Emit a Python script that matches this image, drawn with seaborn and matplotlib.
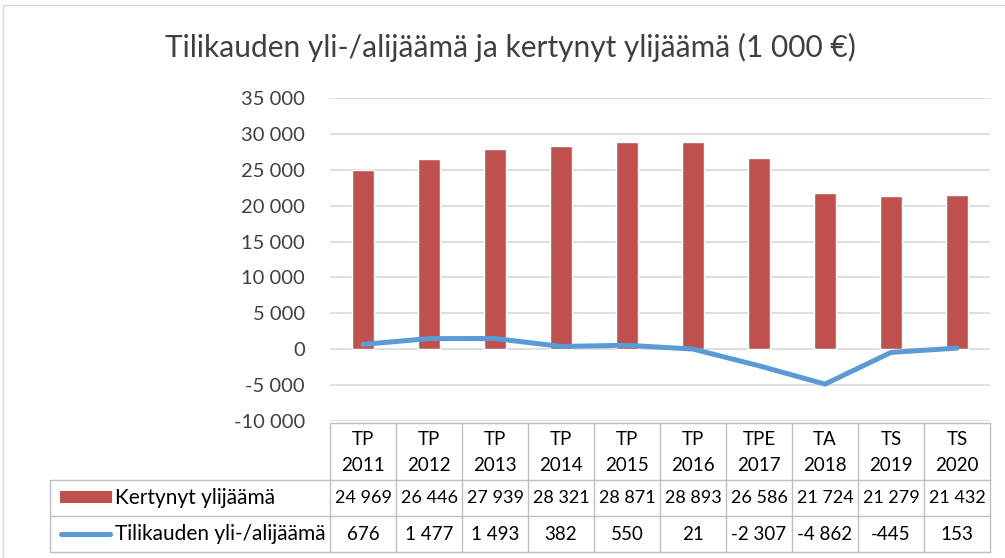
import numpy as np
import pandas as pd
import matplotlib
matplotlib.use("Agg")
import matplotlib.pyplot as plt
from matplotlib.lines import Line2D
from matplotlib.patches import Rectangle
import seaborn as sns

sns.set_theme(style="white")
plt.rcParams["font.family"] = ["Lato", "DejaVu Sans"]

periods = ["TP\n2011", "TP\n2012", "TP\n2013", "TP\n2014", "TP\n2015",
           "TP\n2016", "TPE\n2017", "TA\n2018", "TS\n2019", "TS\n2020"]
kertynyt = [24969, 26446, 27939, 28321, 28871, 28893, 26586, 21724, 21279, 21432]
tilikausi = [676, 1477, 1493, 382, 550, 21, -2307, -4862, -445, 153]
series_names = ["Kertynyt ylijäämä", "Tilikauden yli-/alijäämä"]
yticks = list(range(-10000, 35001, 5000))

RED = "#C0504D"
BLUE = "#5B9BD5"
GRID = "#D9D9D9"
TXT = "#404040"

W, H = 1005, 558
fig = plt.figure(figsize=(W / 100, H / 100), dpi=100)

# plot area in pixels
x0, x1, ytop, ybot = 330, 990, 98, 421
ax = fig.add_axes([x0 / W, 1 - ybot / H, (x1 - x0) / W, (ybot - ytop) / H])

df = pd.DataFrame({"period": periods, "kertynyt": kertynyt, "tilikausi": tilikausi})
n = len(df)

sns.barplot(data=df, x="period", y="kertynyt", color=RED, width=0.32,
            saturation=1, ax=ax, zorder=2)
sns.lineplot(x=np.arange(n), y=df["tilikausi"], color=BLUE, linewidth=3.6,
             ax=ax, zorder=3, solid_capstyle="round", solid_joinstyle="round")

ax.set_xlim(-0.5, n - 0.5)
ax.set_ylim(-10000, 35000)
ax.set_yticks(yticks)
ax.set_yticklabels([f"{v:,}".replace(",", " ") for v in yticks], fontsize=14.5, color=TXT)
ax.tick_params(axis="y", length=0, pad=18)
ax.set_xticks([])
ax.set_xlabel("")
ax.set_ylabel("")
for s in ax.spines.values():
    s.set_visible(False)
ax.grid(axis="y", color=GRID, linewidth=1.2, zorder=0)
ax.set_axisbelow(True)

fig.text(510 / W, 1 - 47 / H, "Tilikauden yli-/alijäämä ja kertynyt ylijäämä (1 000 €)",
         ha="center", va="center", fontsize=21.5, color=TXT)


# --- data table under the axis (pixel coords -> figure coords) ---
def fx(px):
    return px / W


def fy(py):
    return 1 - py / H


def hline(xa, xb, y):
    fig.add_artist(Line2D([fx(xa), fx(xb)], [fy(y), fy(y)], color="#BFBFBF", lw=1))


def vline(x, ya, yb):
    fig.add_artist(Line2D([fx(x), fx(x)], [fy(ya), fy(yb)], color="#BFBFBF", lw=1))


t_top, t_r1, t_r2, t_bot, t_left = 423, 480, 516, 552, 50
cw = (x1 - x0) / n

hline(x0, x1, t_top)
hline(t_left, x1, t_r1)
hline(t_left, x1, t_r2)
hline(t_left, x1, t_bot)
vline(t_left, t_r1, t_bot)
for i in range(n + 1):
    vline(x0 + i * cw, t_top, t_bot)


def fmt(v):
    return f"{v:,}".replace(",", " ")


for i, p in enumerate(periods):
    cx = x0 + (i + 0.5) * cw
    fig.text(fx(cx), fy((t_top + t_r1) / 2 + 1), p, ha="center", va="center",
             fontsize=13.5, color="black", linespacing=1.6)
    fig.text(fx(cx), fy((t_r1 + t_r2) / 2), fmt(kertynyt[i]), ha="center", va="center",
             fontsize=13, color="black")
    fig.text(fx(cx), fy((t_r2 + t_bot) / 2), fmt(tilikausi[i]), ha="center", va="center",
             fontsize=13.5, color="black")

# legend keys inside the table
fig.add_artist(Rectangle((fx(60), fy(503)), fx(112) - fx(60), fy(491) - fy(503),
                         transform=fig.transFigure, color=RED, lw=0))
fig.add_artist(Line2D([fx(61), fx(110)], [fy(534), fy(534)], color=BLUE, lw=3.6,
                      solid_capstyle="round"))
fig.text(fx(115), fy((t_r1 + t_r2) / 2), series_names[0], ha="left", va="center",
         fontsize=15, color="black")
fig.text(fx(115), fy((t_r2 + t_bot) / 2), series_names[1], ha="left", va="center",
         fontsize=15, color="black")

# light chart frame
fig.add_artist(Line2D([fx(3), fx(3)], [fy(5), fy(558)], color="#D9D9D9", lw=1))
fig.add_artist(Line2D([fx(3), fx(1005)], [fy(5), fy(5)], color="#D9D9D9", lw=1))

fig.savefig("out.png", dpi=100, facecolor="white")
